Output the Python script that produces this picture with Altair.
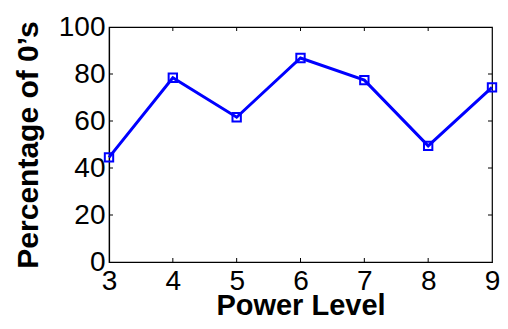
import altair as alt
import pandas as pd

power = [3, 4, 5, 6, 7, 8, 9]
pct = [44.5, 78.4, 61.6, 86.8, 77.4, 49.4, 74.3]
x_ticks = [3, 4, 5, 6, 7, 8, 9]
y_ticks = [0, 20, 40, 60, 80, 100]

W, H = 383, 235
TL = 4

df = pd.DataFrame({"power": power, "pct": pct})
xt = pd.DataFrame({"power": x_ticks[1:-1]})
yt = pd.DataFrame({"pct": y_ticks[1:-1]})

xs = alt.Scale(domain=[3, 9], nice=False, zero=False)
ys = alt.Scale(domain=[0, 100], nice=False)
xa = alt.Axis(values=x_ticks, title="Power Level", labelPadding=5, titlePadding=-4,
              format="d", labelFlush=False, titleFontSize=29)
ya = alt.Axis(values=y_ticks, title="Percentage of 0\u2019s", labelPadding=4, titlePadding=15,
              format="d", labelFlush=False, titleFontSize=30)

X = alt.X("power:Q", scale=xs, axis=xa)
Y = alt.Y("pct:Q", scale=ys, axis=ya)

line = alt.Chart(df).mark_line(color="#0000FF", strokeWidth=3).encode(x=X, y=Y)
points = alt.Chart(df).mark_point(shape="square", size=70, filled=False,
                                  color="#0000FF", strokeWidth=2, opacity=1).encode(x=X, y=Y)

tb = alt.Chart(xt).mark_rule(color="black", strokeWidth=1).encode(
    x=X, y=alt.value(H), y2=alt.value(H - TL))
tt = alt.Chart(xt).mark_rule(color="black", strokeWidth=1).encode(
    x=X, y=alt.value(0), y2=alt.value(TL))
tl = alt.Chart(yt).mark_rule(color="black", strokeWidth=1).encode(
    y=Y, x=alt.value(0), x2=alt.value(TL))
tr = alt.Chart(yt).mark_rule(color="black", strokeWidth=1).encode(
    y=Y, x=alt.value(W), x2=alt.value(W - TL))

chart = alt.layer(line, tb, tt, tl, tr, points).properties(
    width=W, height=H,
    autosize=alt.AutoSizeParams(type="none"),
    padding={"left": 101, "top": 19, "right": 8, "bottom": 54},
).configure_view(stroke="black", strokeWidth=1.2).configure_axis(
    grid=False, ticks=False, domainColor="black", domainWidth=1.2,
    labelFont="Liberation Sans", labelFontSize=28, labelColor="black",
    titleFont="Liberation Sans", titleFontWeight="bold",
    titleColor="black",
)

chart.save("out.html", embed_options={"renderer": "svg", "actions": False})
